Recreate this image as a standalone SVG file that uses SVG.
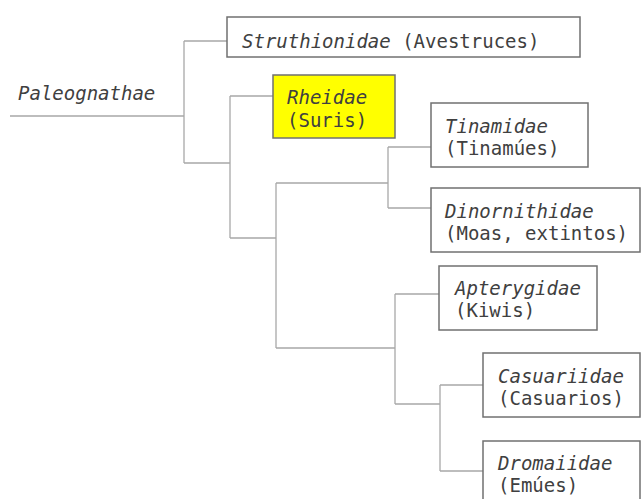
<svg xmlns="http://www.w3.org/2000/svg" width="642" height="499" viewBox="0 0 642 499">
<style>
.bg{fill:#ffffff}
.box{fill:#ffffff;stroke:#707070;stroke-width:1.5}
.hl{fill:#ffff00}
.ln{fill:none;stroke:#a8a8a8;stroke-width:1.3}
text{font-family:"DejaVu Sans Mono","Liberation Mono",monospace;font-size:19px;fill:#404040}
.it{font-style:italic}
</style>
<rect class="bg" x="0" y="0" width="642" height="499"/>
<g id="connectors">
<path class="ln" d="M10,116 H184 M184,41 V163 M184,41 H227 M184,163 H230"/>
<path class="ln" d="M230,96 V238 M230,96 H273 M230,238 H276"/>
<path class="ln" d="M276,183 V348 M276,183 H388 M276,348 H395"/>
<path class="ln" d="M388,147 V208 M388,147 H431 M388,208 H431"/>
<path class="ln" d="M395,294 V404 M395,294 H439 M395,404 H440"/>
<path class="ln" d="M440,385 V471 M440,385 H483 M440,471 H483"/>
</g>
<g id="paleognathae">
<text class="it" x="18" y="100">Paleognathae</text>
</g>
<g id="struthionidae">
<rect class="box" x="227" y="17" width="353" height="40"/>
<text x="242" y="48"><tspan class="it">Struthionidae</tspan> (Avestruces)</text>
</g>
<g id="rheidae">
<rect class="box hl" x="273" y="75" width="122" height="63"/>
<text class="it" x="287" y="104">Rheidae</text>
<text x="287" y="127">(Suris)</text>
</g>
<g id="tinamidae">
<rect class="box" x="431" y="103" width="157" height="64"/>
<text class="it" x="445" y="133">Tinamidae</text>
<text x="445" y="155">(Tinamúes)</text>
</g>
<g id="dinornithidae">
<rect class="box" x="431" y="188" width="209" height="64"/>
<text class="it" x="445" y="218">Dinornithidae</text>
<text x="445" y="240">(Moas, extintos)</text>
</g>
<g id="apterygidae">
<rect class="box" x="439" y="266" width="158" height="64"/>
<text class="it" x="455" y="295">Apterygidae</text>
<text x="455" y="317">(Kiwis)</text>
</g>
<g id="casuariidae">
<rect class="box" x="483" y="353" width="157" height="64"/>
<text class="it" x="498" y="383">Casuariidae</text>
<text x="498" y="405">(Casuarios)</text>
</g>
<g id="dromaiidae">
<rect class="box" x="483" y="441" width="157" height="64"/>
<text class="it" x="498" y="470">Dromaiidae</text>
<text x="498" y="492">(Emúes)</text>
</g>
</svg>
